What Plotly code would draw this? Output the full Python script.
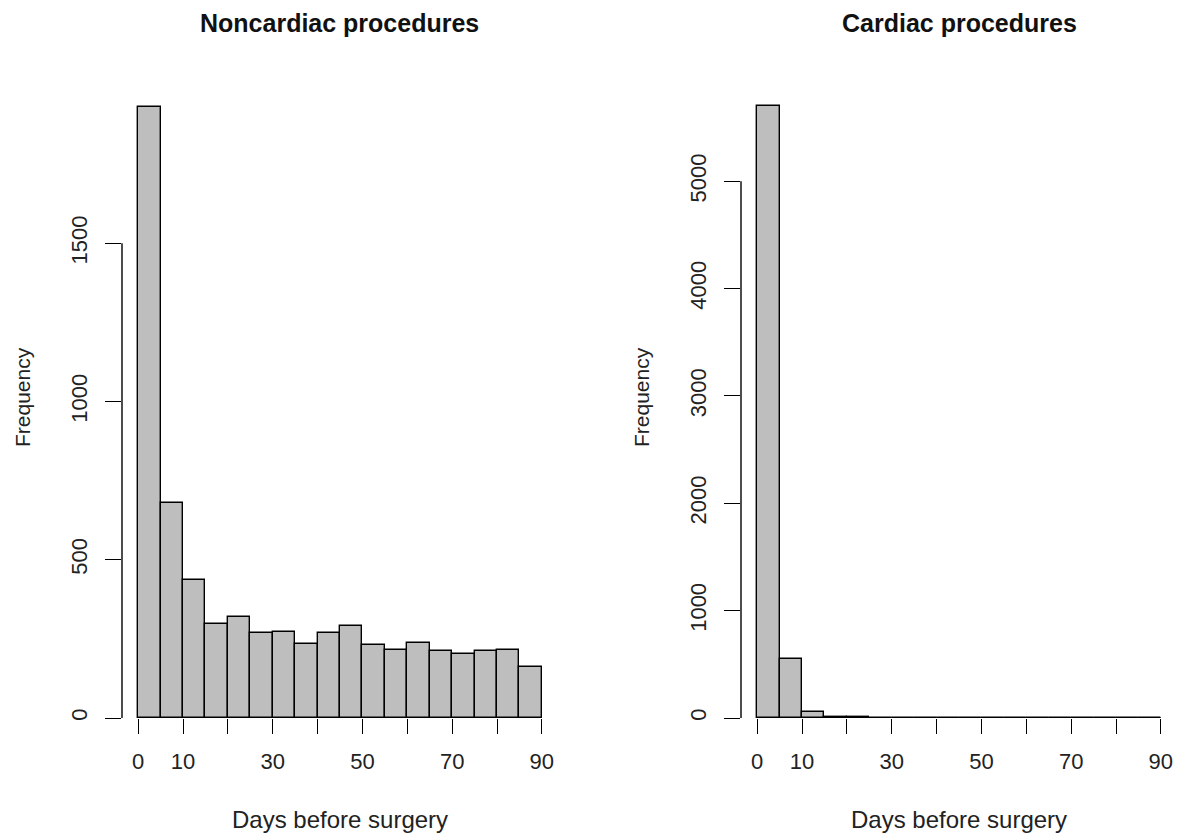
import plotly.graph_objects as go

# ---- data ----
bin_edges = list(range(0, 95, 5))  # 0,5,...,90
bin_centers = [b + 2.5 for b in bin_edges[:-1]]
noncardiac_counts = [1930, 678, 436, 296, 320, 270, 272, 234, 270, 291,
                     231, 216, 236, 211, 203, 213, 215, 160]
cardiac_counts = [5700, 550, 60, 10, 6, 4, 3, 4, 2, 3,
                  2, 2, 3, 2, 1, 2, 2, 1]
x_tickvals = [0, 10, 20, 30, 40, 50, 60, 70, 80, 90]
x_ticktext = ["0", "10", "", "30", "", "50", "", "70", "", "90"]
y_ticks_noncardiac = [0, 500, 1000, 1500]
y_ticks_cardiac = [0, 1000, 2000, 3000, 4000, 5000]
titles = ["Noncardiac procedures", "Cardiac procedures"]
x_label = "Days before surgery"
y_label = "Frequency"

FONT = "Liberation Sans, Arial, Helvetica, sans-serif"
FS = 22
OFF = 8  # page body margin of the browser
W, H = 1181 - OFF, 837 - OFF


def px(x):
    return (x - OFF) / W


def py(y):
    return 1 - (y - OFF) / H


fig = go.Figure()

ydom = [py(718), py(104)]
xdoms = [[px(122), px(558)], [px(741), px(1177)]]
yranges = [[0, 1940], [0, 5720]]
yticks = [y_ticks_noncardiac, y_ticks_cardiac]
counts = [noncardiac_counts, cardiac_counts]

for i in range(2):
    xa = "x" if i == 0 else "x2"
    ya = "y" if i == 0 else "y2"
    fig.add_trace(go.Bar(
        x=bin_centers, y=counts[i], width=5,
        marker=dict(color="#BEBEBE", line=dict(color="black", width=1.4)),
        xaxis=xa, yaxis=ya, showlegend=False, hoverinfo="x+y"))
    sfx = "" if i == 0 else "2"
    fig.update_layout(**{
        "xaxis" + sfx: dict(
            domain=xdoms[i], anchor=ya, range=[-3.6, 93.6], automargin=False,
            showgrid=False, zeroline=False, showline=False,
            tickmode="array", tickvals=x_tickvals, ticktext=x_ticktext,
            ticks="outside", ticklen=15, tickwidth=1.4, tickcolor="black",
            ticklabelstandoff=9,
            tickfont=dict(family=FONT, size=FS, color="#222")),
        "yaxis" + sfx: dict(
            domain=ydom, anchor=xa, range=yranges[i], automargin=False,
            showgrid=False, zeroline=False, showline=False,
            tickmode="array", tickvals=yticks[i],
            ticktext=[str(v) for v in yticks[i]],
            ticks="outside", ticklen=16, tickwidth=1.4, tickcolor="black",
            tickangle=-90, ticklabelstandoff=9,
            tickfont=dict(family=FONT, size=FS, color="#222")),
    })
    # axis lines spanning only the tick range (R style)
    fig.add_shape(type="line", xref=xa, yref=ya,
                  x0=x_tickvals[0], x1=x_tickvals[-1], y0=0, y1=0,
                  line=dict(color="black", width=1.4))
    fig.add_shape(type="line", xref=xa + " domain", yref=ya,
                  x0=0, x1=0, y0=yticks[i][0], y1=yticks[i][-1],
                  line=dict(color="black", width=1.4))
    cx = (xdoms[i][0] + xdoms[i][1]) / 2
    fig.add_annotation(text="<b>" + titles[i] + "</b>", xref="paper", yref="paper",
                       x=cx, y=py(23), showarrow=False,
                       font=dict(family=FONT, size=25, color="#111"),
                       xanchor="center", yanchor="middle")
    fig.add_annotation(text=x_label, xref="paper", yref="paper",
                       x=cx, y=py(819), showarrow=False,
                       font=dict(family=FONT, size=24, color="#222"),
                       xanchor="center", yanchor="middle")
    fx = 22 if i == 0 else 641
    fig.add_annotation(text=y_label, xref="paper", yref="paper",
                       x=px(fx), y=py(397), showarrow=False, textangle=-90,
                       font=dict(family=FONT, size=21, color="#222"),
                       xanchor="center", yanchor="middle")

fig.update_layout(
    width=W, height=H,
    margin=dict(l=0, r=0, t=0, b=0),
    paper_bgcolor="white", plot_bgcolor="white",
    bargap=0,
)

fig.write_html("out.html")
